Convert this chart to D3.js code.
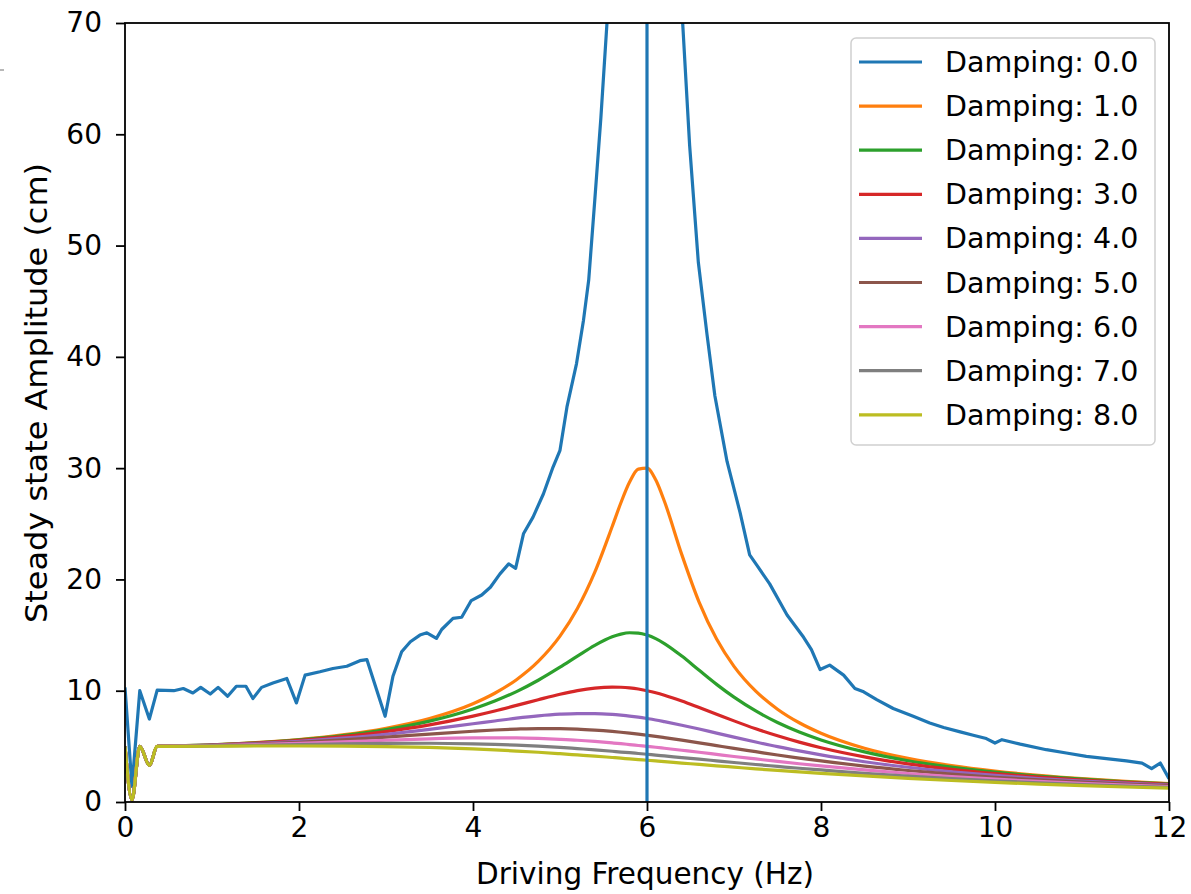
<!DOCTYPE html>
<html>
<head>
<meta charset="utf-8">
<script src="https://cdn.jsdelivr.net/npm/d3@7"></script>
<style>
  html, body { margin: 0; padding: 0; background: #fff; }
  svg { display: block; }
  text { font-family: "DejaVu Sans", sans-serif; fill: #000; }
</style>
</head>
<body>
<svg id="chart" width="1191" height="894"></svg>
<script>
// ---------------- data ----------------
const dampingValues = [0, 1, 2, 3, 4, 5, 6, 7, 8];
const colors = ["#1f77b4", "#ff7f0e", "#2ca02c", "#d62728", "#9467bd", "#8c564b", "#e377c2", "#7f7f7f", "#bcbd22"];
const xTicks = [0, 2, 4, 6, 8, 10, 12];
const yTicks = [0, 10, 20, 30, 40, 50, 60, 70];
const resonanceFreq = 6;

// Damping 0.0 (undamped, jagged)
const freqUndamped = [0, 0.08, 0.17, 0.28, 0.37, 0.56, 0.67, 0.78, 0.87, 0.98, 1.07, 1.18, 1.28, 1.39, 1.47, 1.57, 1.70, 1.86, 1.97, 2.07,
  2.24, 2.39, 2.55, 2.70, 2.78, 2.99, 3.08, 3.18, 3.28, 3.39, 3.47, 3.58, 3.64, 3.77, 3.87, 3.98, 4.10, 4.20, 4.31, 4.41,
  4.49, 4.58, 4.69, 4.81, 4.92, 5.00, 5.08, 5.19, 5.27, 5.33, 5.40, 5.47, 5.54, 5.62, 6.35, 6.41, 6.49, 6.59, 6.69, 6.78,
  6.92, 7.07, 7.18, 7.26, 7.41, 7.61, 7.80, 7.89, 7.99, 8.10, 8.26, 8.39, 8.49, 8.64, 8.83, 9.06, 9.25, 9.41, 9.60, 9.75,
  9.90, 10.0, 10.08, 10.29, 10.59, 10.82, 11.05, 11.28, 11.51, 11.69, 11.80, 11.90, 12.0];
const ampUndamped = [10.3, 1.4, 10.0, 7.45, 10.05, 10.0, 10.2, 9.8, 10.3, 9.7, 10.3, 9.5, 10.4, 10.4, 9.3, 10.3, 10.7, 11.1, 8.9, 11.4,
  11.7, 12.0, 12.2, 12.7, 12.8, 7.7, 11.3, 13.5, 14.4, 15.0, 15.2, 14.7, 15.5, 16.5, 16.6, 18.1, 18.6, 19.3, 20.5, 21.4,
  21.0, 24.1, 25.6, 27.7, 30.1, 31.6, 35.5, 39.4, 43.3, 46.9, 54.1, 61.5, 70.0, 88.0, 88.0, 70.0, 59.0, 48.5, 42.0, 36.5,
  30.6, 26.0, 22.2, 21.3, 19.6, 16.8, 14.8, 13.7, 11.9, 12.3, 11.4, 10.2, 9.9, 9.2, 8.4, 7.7, 7.1, 6.7, 6.3, 6.0,
  5.7, 5.3, 5.6, 5.2, 4.7, 4.4, 4.1, 3.9, 3.7, 3.5, 3.0, 3.5, 2.1];

// Damped curves share one frequency grid
const freqDamped = [0, 0.08, 0.17, 0.28, 0.37, 0.5, 1, 1.5, 2, 2.5, 3, 3.5, 4, 4.25, 4.5, 4.75, 5, 5.2, 5.4, 5.6, 5.7, 5.8, 5.9, 6,
  6.1, 6.2, 6.4, 6.6, 6.8, 7, 7.25, 7.5, 7.75, 8, 8.5, 9, 9.5, 10, 10.5, 11, 11.5, 12];
const ampDamping1 = [5.0, 0.2, 5.0, 3.3, 5.0, 5.03, 5.14, 5.33, 5.61, 6.03, 6.63, 7.50, 8.83, 9.77, 10.99, 12.63, 14.90, 17.38, 20.65, 24.75, 26.89, 28.75, 29.91, 30.0,
  28.95, 27.02, 22.23, 17.94, 14.64, 12.19, 9.96, 8.34, 7.12, 6.18, 4.83, 3.92, 3.27, 2.78, 2.40, 2.10, 1.86, 1.66];
const ampDamping2 = [5.0, 0.2, 5.0, 3.3, 5.0, 5.03, 5.13, 5.31, 5.58, 5.97, 6.51, 7.27, 8.36, 9.07, 9.92, 10.94, 12.11, 13.11, 14.08, 14.85, 15.09, 15.21, 15.18, 15.0,
  14.68, 14.24, 13.11, 11.83, 10.57, 9.42, 8.18, 7.14, 6.29, 5.58, 4.50, 3.71, 3.13, 2.68, 2.33, 2.05, 1.82, 1.63];
const ampDamping3 = [5.0, 0.2, 5.0, 3.3, 5.0, 5.03, 5.12, 5.29, 5.53, 5.87, 6.33, 6.93, 7.72, 8.18, 8.68, 9.19, 9.68, 10.01, 10.24, 10.33, 10.31, 10.25, 10.15, 10.0,
  9.82, 9.60, 9.08, 8.49, 7.89, 7.29, 6.58, 5.95, 5.38, 4.88, 4.06, 3.43, 2.94, 2.55, 2.23, 1.97, 1.76, 1.58];
const ampDamping4 = [5.0, 0.2, 5.0, 3.3, 5.0, 5.03, 5.11, 5.25, 5.46, 5.74, 6.09, 6.53, 7.03, 7.28, 7.53, 7.74, 7.89, 7.95, 7.95, 7.87, 7.80, 7.72, 7.62, 7.5,
  7.37, 7.22, 6.90, 6.56, 6.19, 5.83, 5.39, 4.97, 4.59, 4.23, 3.62, 3.12, 2.72, 2.39, 2.11, 1.88, 1.69, 1.52];
const ampDamping5 = [5.0, 0.2, 5.0, 3.3, 5.0, 5.02, 5.09, 5.21, 5.37, 5.58, 5.83, 6.10, 6.36, 6.47, 6.55, 6.60, 6.59, 6.55, 6.46, 6.34, 6.27, 6.19, 6.10, 6.0,
  5.90, 5.79, 5.56, 5.32, 5.07, 4.82, 4.52, 4.22, 3.95, 3.69, 3.22, 2.83, 2.50, 2.22, 1.98, 1.78, 1.61, 1.46];
const ampDamping6 = [5.0, 0.2, 5.0, 3.3, 5.0, 5.02, 5.07, 5.15, 5.27, 5.40, 5.55, 5.68, 5.76, 5.77, 5.76, 5.71, 5.63, 5.55, 5.44, 5.31, 5.24, 5.16, 5.08, 5.0,
  4.92, 4.83, 4.65, 4.47, 4.28, 4.09, 3.87, 3.65, 3.44, 3.24, 2.88, 2.56, 2.29, 2.05, 1.85, 1.67, 1.52, 1.39];
const ampDamping7 = [5.0, 0.2, 5.0, 3.3, 5.0, 5.01, 5.04, 5.09, 5.15, 5.22, 5.26, 5.28, 5.23, 5.18, 5.11, 5.02, 4.91, 4.80, 4.69, 4.56, 4.49, 4.43, 4.36, 4.29,
  4.21, 4.14, 3.99, 3.85, 3.70, 3.55, 3.37, 3.20, 3.03, 2.88, 2.58, 2.33, 2.10, 1.90, 1.72, 1.57, 1.44, 1.32];
const ampDamping8 = [5.0, 0.2, 5.0, 3.3, 5.0, 5.00, 5.01, 5.03, 5.03, 5.02, 4.98, 4.90, 4.77, 4.68, 4.58, 4.47, 4.34, 4.23, 4.12, 4.00, 3.94, 3.87, 3.81, 3.75,
  3.69, 3.63, 3.50, 3.38, 3.25, 3.13, 2.98, 2.84, 2.71, 2.58, 2.34, 2.12, 1.93, 1.76, 1.61, 1.47, 1.35, 1.25];

// ---------------- drawing ----------------
const svg = d3.select("#chart");
const W = 1191, H = 894;
const plot = { left: 125, right: 1169, top: 23, bottom: 802 };
const tickFs = 28, labelFs = 29.5, legendFs = 28.5;
const lw = 3.2;

svg.append("rect").attr("width", W).attr("height", H).attr("fill", "#fff");

const x = d3.scaleLinear().domain([0, 12]).range([plot.left, plot.right]);
const y = d3.scaleLinear().domain([0, 70]).range([plot.bottom, plot.top]);

svg.append("defs").append("clipPath").attr("id", "plotclip")
  .append("rect").attr("x", plot.left).attr("y", plot.top)
  .attr("width", plot.right - plot.left).attr("height", plot.bottom - plot.top);

const series = [
  { freq: freqUndamped, amp: ampUndamped, curve: d3.curveLinear },
  { freq: freqDamped, amp: ampDamping1, curve: d3.curveMonotoneX },
  { freq: freqDamped, amp: ampDamping2, curve: d3.curveMonotoneX },
  { freq: freqDamped, amp: ampDamping3, curve: d3.curveMonotoneX },
  { freq: freqDamped, amp: ampDamping4, curve: d3.curveMonotoneX },
  { freq: freqDamped, amp: ampDamping5, curve: d3.curveMonotoneX },
  { freq: freqDamped, amp: ampDamping6, curve: d3.curveMonotoneX },
  { freq: freqDamped, amp: ampDamping7, curve: d3.curveMonotoneX },
  { freq: freqDamped, amp: ampDamping8, curve: d3.curveMonotoneX }
];

const lines = svg.append("g").attr("clip-path", "url(#plotclip)");
series.forEach((s, i) => {
  const pts = s.freq.map((f, j) => [f, s.amp[j]]);
  const gen = d3.line().x(d => x(d[0])).y(d => y(d[1])).curve(s.curve);
  lines.append("path").attr("d", gen(pts))
    .attr("fill", "none").attr("stroke", colors[i])
    .attr("stroke-width", lw).attr("stroke-linejoin", "round").attr("stroke-linecap", "butt");
});
// vertical line at resonance
lines.append("line")
  .attr("x1", x(resonanceFreq)).attr("x2", x(resonanceFreq))
  .attr("y1", plot.top).attr("y2", plot.bottom)
  .attr("stroke", colors[0]).attr("stroke-width", lw);

// axes
const xAxis = d3.axisBottom(x).tickValues(xTicks).tickFormat(d3.format("d")).tickSize(9).tickPadding(6);
const yAxis = d3.axisLeft(y).tickValues(yTicks).tickFormat(d3.format("d")).tickSize(9).tickPadding(14);

const gx = svg.append("g").attr("transform", `translate(0,${plot.bottom})`).call(xAxis);
const gy = svg.append("g").attr("transform", `translate(${plot.left},0)`).call(yAxis);
[gx, gy].forEach(g => {
  g.select(".domain").remove();
  g.selectAll(".tick line").attr("stroke", "#000").attr("stroke-width", 1.8);
  g.selectAll(".tick text").attr("font-size", tickFs).attr("font-family", "DejaVu Sans").attr("fill", "#000");
});

// frame
svg.append("rect").attr("x", plot.left).attr("y", plot.top)
  .attr("width", plot.right - plot.left).attr("height", plot.bottom - plot.top)
  .attr("fill", "none").attr("stroke", "#000").attr("stroke-width", 1.8);

// axis labels
svg.append("text").attr("x", 645).attr("y", 884)
  .attr("text-anchor", "middle").attr("font-size", labelFs).text("Driving Frequency (Hz)");
svg.append("text").attr("transform", `translate(47,393) rotate(-90)`)
  .attr("text-anchor", "middle").attr("font-size", 30.5)
  .attr("textLength", 460).attr("lengthAdjust", "spacingAndGlyphs")
  .text("Steady state Amplitude (cm)");

// legend
const lg = svg.append("g");
const lgBox = { x: 851, y: 38, w: 304, h: 407 };
lg.append("rect").attr("x", lgBox.x).attr("y", lgBox.y).attr("width", lgBox.w).attr("height", lgBox.h)
  .attr("rx", 5).attr("fill", "#fff").attr("fill-opacity", 0.8).attr("stroke", "#d0d0d0").attr("stroke-width", 1.5);
dampingValues.forEach((d, i) => {
  const ry = 62 + i * 44.1;
  lg.append("line").attr("x1", 859).attr("x2", 922).attr("y1", ry).attr("y2", ry)
    .attr("stroke", colors[i]).attr("stroke-width", lw);
  lg.append("text").attr("x", 945).attr("y", ry + 10).attr("font-size", legendFs)
    .text("Damping: " + d.toFixed(1));
});

// small stray tick mark at the far left edge of the reference
svg.append("line").attr("x1", 0).attr("x2", 4).attr("y1", 70).attr("y2", 70)
  .attr("stroke", "#888").attr("stroke-width", 1.2);
</script>
</body>
</html>
